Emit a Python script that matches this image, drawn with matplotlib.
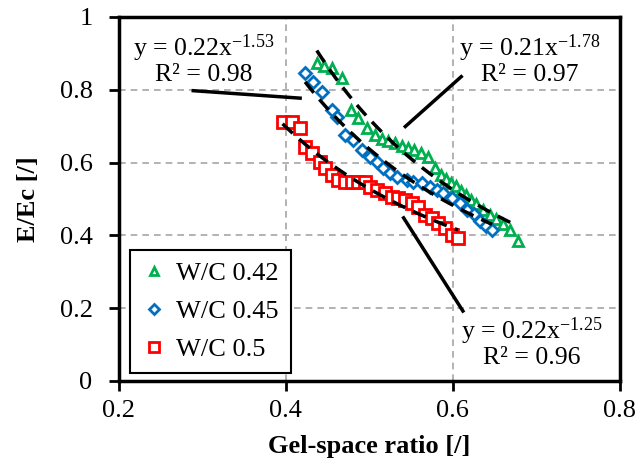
import numpy as np
import matplotlib
matplotlib.use("Agg")
import matplotlib.pyplot as plt

plt.rcParams['font.family'] = ['Liberation Serif', 'DejaVu Serif']
plt.rcParams['mathtext.fontset'] = 'custom'
plt.rcParams['mathtext.rm'] = 'Liberation Serif'
plt.rcParams['mathtext.it'] = 'Liberation Serif:italic'

# W/C 0.42
x42 = [0.437, 0.446, 0.455, 0.467, 0.478, 0.486, 0.497, 0.507, 0.515, 0.522,
       0.531, 0.539, 0.546, 0.553, 0.562, 0.570, 0.578, 0.586, 0.592, 0.598,
       0.604, 0.610, 0.616, 0.622, 0.628, 0.636, 0.644, 0.652, 0.660, 0.668, 0.678]
y42 = [0.874, 0.865, 0.860, 0.832, 0.745, 0.723, 0.695, 0.676, 0.665, 0.659,
       0.654, 0.646, 0.640, 0.635, 0.626, 0.615, 0.585, 0.565, 0.555, 0.545,
       0.535, 0.522, 0.510, 0.497, 0.485, 0.470, 0.455, 0.445, 0.430, 0.415, 0.385]
# W/C 0.45
x45 = [0.423, 0.432, 0.443, 0.455, 0.461, 0.471, 0.480, 0.491, 0.501, 0.509,
       0.516, 0.525, 0.533, 0.545, 0.552, 0.563, 0.572, 0.581, 0.588, 0.599,
       0.608, 0.617, 0.625, 0.633, 0.640, 0.647]
y45 = [0.846, 0.821, 0.794, 0.745, 0.725, 0.676, 0.662, 0.635, 0.615, 0.602,
       0.585, 0.571, 0.560, 0.552, 0.547, 0.544, 0.533, 0.525, 0.516, 0.503,
       0.490, 0.470, 0.460, 0.440, 0.425, 0.415]
# W/C 0.5
x50 = [0.396, 0.407, 0.417, 0.423, 0.431, 0.441, 0.447, 0.455, 0.462, 0.471,
       0.479, 0.486, 0.495, 0.501, 0.509, 0.519, 0.527, 0.534, 0.543, 0.551,
       0.558, 0.566, 0.575, 0.582, 0.590, 0.599, 0.606]
y50 = [0.712, 0.712, 0.695, 0.643, 0.626, 0.602, 0.585, 0.566, 0.552, 0.547,
       0.547, 0.547, 0.547, 0.533, 0.525, 0.516, 0.505, 0.503, 0.497, 0.489,
       0.478, 0.456, 0.448, 0.434, 0.420, 0.401, 0.393]

labels = ['W/C 0.42', 'W/C 0.45', 'W/C 0.5']
colors = ['#00B050', '#0070C0', '#FF0000']
markers = ['^', 'D', 's']
msizes = [7, 6, 8.5]

eq_texts = ['y = 0.21x$^{-1.78}$\nR² = 0.97',
            'y = 0.22x$^{-1.53}$\nR² = 0.98',
            'y = 0.22x$^{-1.25}$\nR² = 0.96']

fig = plt.figure(figsize=(6.43, 4.72), dpi=100)
ax = fig.add_axes([0.185, 0.193, 0.779, 0.771])

series = [(x42, y42), (x45, y45), (x50, y50)]
for (xs, ys), lab, c, m, ms in zip(series, labels, colors, markers, msizes):
    ax.plot(xs, ys, linestyle='none', marker=m, markersize=ms, markerfacecolor='white',
            markeredgecolor=c, markeredgewidth=2, label=lab, zorder=3)

for (xs, ys) in series:
    xs = np.array(xs); ys = np.array(ys)
    b, loga = np.polyfit(np.log(xs), np.log(ys), 1)
    xf = np.linspace(xs.min(), xs.max(), 100)
    ax.plot(xf, np.exp(loga) * xf ** b, color='black', lw=2.5, dashes=(4, 2.5), zorder=4)

ax.set_xlim(0.2, 0.8)
ax.set_ylim(0, 1)
ax.set_xticks([0.2, 0.4, 0.6, 0.8])
ax.set_yticks([0, 0.2, 0.4, 0.6, 0.8, 1])
ax.set_xticklabels(['0.2', '0.4', '0.6', '0.8'])
ax.set_yticklabels(['0', '0.2', '0.4', '0.6', '0.8', '1'])
ax.grid(True, color='#A6A6A6', linestyle=(0, (4, 3)), lw=1.2, zorder=0)
for s in ax.spines.values():
    s.set_linewidth(2.5)
    s.set_color('black')
ax.tick_params(axis='both', direction='out', length=7, width=2, labelsize=19, colors='black')
ax.tick_params(axis='x', pad=7)
ax.tick_params(axis='y', pad=12)
ax.set_xlabel('Gel-space ratio [/]', fontsize=19, fontweight='bold', labelpad=9)
ax.set_ylabel('E/Ec [/]', fontsize=19, fontweight='bold', labelpad=14)

# equation labels and leader lines
ax.text(0.302, 0.885, eq_texts[1], ha='center', va='center', fontsize=18.5, linespacing=1.0)
ax.text(0.692, 0.885, eq_texts[0], ha='center', va='center', fontsize=18.5, linespacing=1.0)
ax.text(0.695, 0.105, eq_texts[2], ha='center', va='center', fontsize=18.5, linespacing=1.0)
ax.plot([0.289, 0.417], [0.7975, 0.777], color='black', lw=2.5, zorder=5)
ax.plot([0.610, 0.543], [0.836, 0.699], color='black', lw=2.5, zorder=5)
ax.plot([0.541, 0.612], [0.448, 0.192], color='black', lw=2.5, zorder=5)

leg = ax.legend(loc='lower left', bbox_to_anchor=(0.022, 0.022), borderaxespad=0, fontsize=19,
                frameon=True, fancybox=False, edgecolor='black', framealpha=1, handlelength=0.9,
                handletextpad=0.4, borderpad=0.45, labelspacing=0.55, markerscale=0.8)
leg.get_frame().set_linewidth(1.5)

fig.savefig('out.png', dpi=100)
